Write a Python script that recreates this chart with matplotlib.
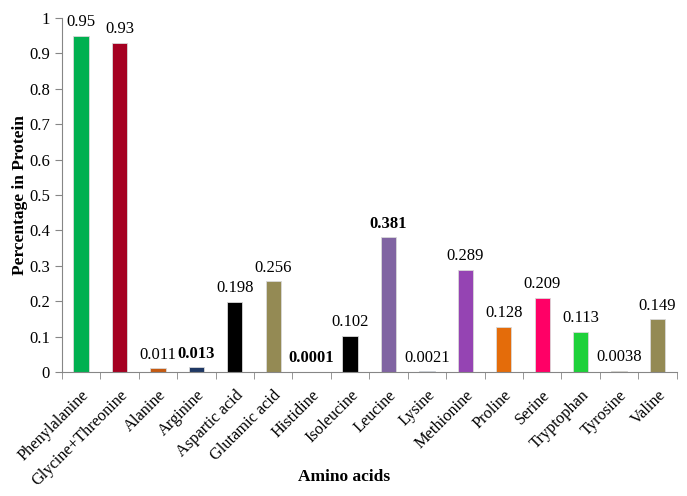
import numpy as np
import matplotlib.pyplot as plt

plt.rcParams['font.family'] = ['Liberation Serif', 'DejaVu Serif']

amino_acids = ["Phenylalanine", "Glycine+Threonine", "Alanine", "Arginine", "Aspartic acid",
               "Glutamic acid", "Histidine", "Isoleucine", "Leucine", "Lysine", "Methionine",
               "Proline", "Serine", "Tryptophan", "Tyrosine", "Valine"]
percent = [0.95, 0.93, 0.011, 0.013, 0.198, 0.256, 0.0001, 0.102, 0.381, 0.0021,
           0.289, 0.128, 0.209, 0.113, 0.0038, 0.149]
value_labels = ["0.95", "0.93", "0.011", "0.013", "0.198", "0.256", "0.0001", "0.102", "0.381",
                "0.0021", "0.289", "0.128", "0.209", "0.113", "0.0038", "0.149"]
bold_labels = ["0.013", "0.0001", "0.381"]
bar_colors = ["#00b050", "#a50021", "#c55a11", "#1f3864", "#000000", "#948a54", "#4f81bd",
              "#000000", "#8064a2", "#4f81bd", "#9544b3", "#e46c0a", "#ff0066", "#1ed13a",
              "#948a54", "#948a54"]

fig = plt.figure(figsize=(6.87, 4.96), dpi=100)
ax = fig.add_axes([0.090, 0.25, 0.895, 0.714])

x = np.arange(len(amino_acids))
ax.bar(x, percent, width=0.4, color=bar_colors, edgecolor="#d9d9d9", linewidth=0.6)

for xi, v, lab in zip(x, percent, value_labels):
    ax.annotate(lab, (xi, v), xytext=(0, 4), textcoords="offset points", ha="center", va="bottom",
                fontsize=12, fontweight="bold" if lab in bold_labels else "normal")

ax.set_xlim(-0.5, len(amino_acids) - 0.5)
ax.set_ylim(0, 1)
ax.set_yticks(np.arange(0, 1.01, 0.1))
ax.set_yticklabels(["0", "0.1", "0.2", "0.3", "0.4", "0.5", "0.6", "0.7", "0.8", "0.9", "1"])

ax.set_xticks(x)
ax.set_xticklabels(amino_acids, rotation=45, ha="right", va="top", rotation_mode="anchor")
ax.tick_params(axis="x", length=0, pad=11)
ax.set_xticks(np.arange(-0.5, len(amino_acids), 1), minor=True)
ax.tick_params(axis="x", which="minor", length=5, color="#868686")
ax.tick_params(axis="y", length=5, color="#868686", labelsize=12)
ax.tick_params(axis="x", labelsize=11.8)

for s in ["top", "right"]:
    ax.spines[s].set_visible(False)
for s in ["left", "bottom"]:
    ax.spines[s].set_color("#868686")

ax.set_ylabel("Percentage in Protein", fontsize=12.5, fontweight="bold")
ax.yaxis.set_label_coords(-0.055, 0.5)
ax.set_xlabel("Amino acids", fontsize=12.5, fontweight="bold")
ax.xaxis.set_label_coords(0.459, -0.275)

fig.savefig("out.png", dpi=100)
